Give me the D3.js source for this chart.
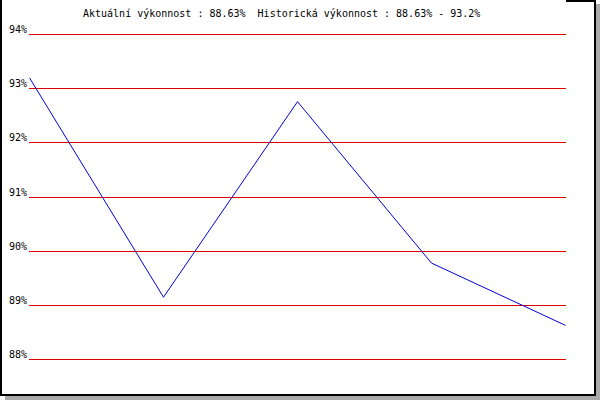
<!DOCTYPE html>
<html>
<head>
<meta charset="utf-8">
<script src="https://cdn.jsdelivr.net/npm/d3@7/dist/d3.min.js"></script>
<style>
  html, body { margin: 0; padding: 0; background: #fff; }
  svg { display: block; }
  text { font-family: "DejaVu Sans Mono", "Liberation Mono", monospace; font-size: 10px; fill: #000; -webkit-font-smoothing: none; }
</style>
</head>
<body>
<svg id="chart" width="600" height="400"></svg>
<script>
const categories = ["1", "2", "3", "4", "5"];
const values = [93.2, 89.15, 92.76, 89.78, 88.63];
const yTicks = [88, 89, 90, 91, 92, 93, 94];
const titleText = "Aktuální výkonnost : 88.63%  Historická výkonnost : 88.63% - 93.2%";

const svg = d3.select("#chart");

// frame with shadow
svg.append("rect").attr("x", 596).attr("y", 4).attr("width", 4).attr("height", 396).attr("fill", "#aaaaaa");
svg.append("rect").attr("x", 5).attr("y", 396).attr("width", 595).attr("height", 4).attr("fill", "#aaaaaa");
svg.append("rect").attr("x", 0).attr("y", 0).attr("width", 2).attr("height", 396).attr("fill", "#000");
svg.append("rect").attr("x", 594).attr("y", 0).attr("width", 2).attr("height", 396).attr("fill", "#000");
svg.append("rect").attr("x", 0).attr("y", 394).attr("width", 596).attr("height", 2).attr("fill", "#000");
svg.append("rect").attr("x", 566).attr("y", 0).attr("width", 30).attr("height", 2).attr("fill", "#000");

const x = d3.scalePoint().domain(categories).range([29.5, 565.5]);
const y = d3.scaleLinear().domain([88, 94]).range([359.5, 34.5]);

// gridlines
const grid = svg.append("g");
grid.selectAll("line").data(yTicks).join("line")
  .attr("x1", 29).attr("x2", 566)
  .attr("y1", d => Math.floor(y(d)) + 0.5)
  .attr("y2", d => Math.floor(y(d)) + 0.5)
  .attr("stroke", "#dd0000").attr("stroke-width", 1)
  .attr("shape-rendering", "crispEdges");

// y labels
svg.append("g").selectAll("text").data(yTicks).join("text")
  .attr("x", 27)
  .attr("y", d => Math.floor(y(d)) - 1)
  .attr("text-anchor", "end")
  .text(d => d + "%");

// series line
const line = d3.line().x((d, i) => x(categories[i])).y(d => y(d));
svg.append("path").datum(values)
  .attr("d", line)
  .attr("fill", "none")
  .attr("stroke", "#0000dd")
  .attr("stroke-width", 1);

// title
svg.append("text").attr("x", 83).attr("y", 17).text(titleText).attr("xml:space", "preserve").style("white-space", "pre");
</script>
</body>
</html>
